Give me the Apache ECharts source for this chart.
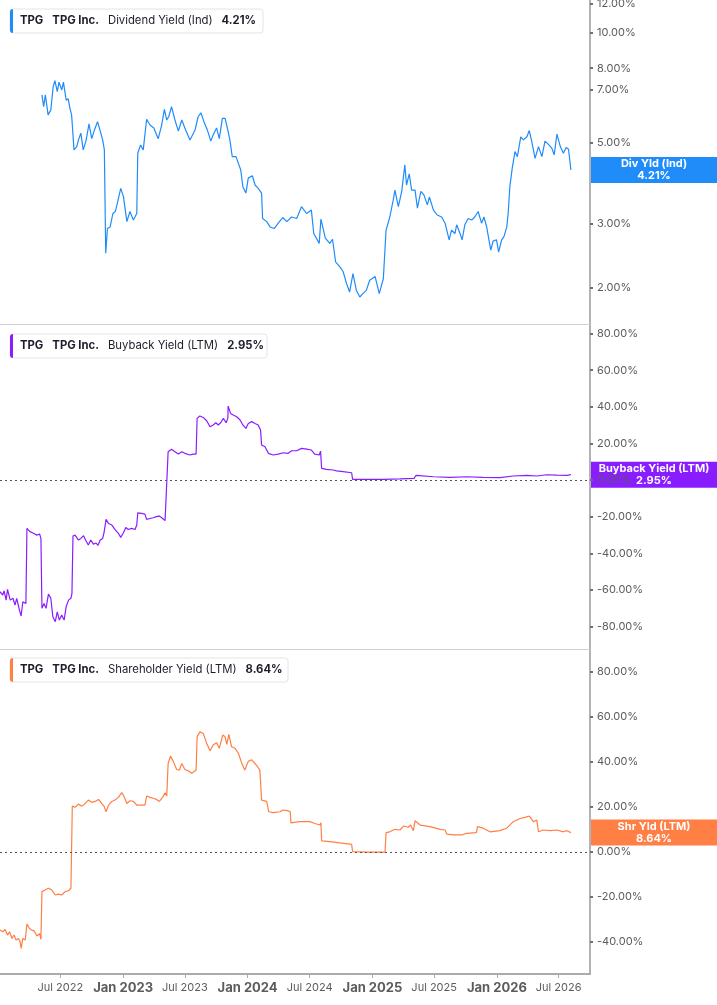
<!DOCTYPE html>
<html>
<head>
<meta charset="utf-8">
<script src="https://cdn.jsdelivr.net/npm/echarts@6/dist/echarts.min.js"></script>
<style>
html, body { margin: 0; padding: 0; background: #fff; }
#chart { width: 717px; height: 1005px; }
</style>
</head>
<body>
<div id="chart"></div>
<script>
// dividend yield (Ind), %
var divDates = ['2022-05-08','2022-05-13','2022-05-18','2022-05-26','2022-06-03','2022-06-10','2022-06-15','2022-06-22','2022-06-27','2022-07-05','2022-07-10','2022-07-18','2022-07-24','2022-07-29','2022-08-03','2022-08-10','2022-08-18','2022-08-23','2022-08-30','2022-09-06','2022-09-14','2022-09-23','2022-10-01','2022-10-09','2022-10-18','2022-10-26','2022-11-02','2022-11-07','2022-11-11','2022-11-16','2022-11-24','2022-12-02','2022-12-09','2022-12-15','2022-12-25',
  '2023-01-02','2023-01-12','2023-01-21','2023-01-31','2023-02-10','2023-02-13','2023-02-21','2023-03-01','2023-03-11','2023-03-21','2023-04-01','2023-04-14','2023-04-24','2023-05-02','2023-05-09','2023-05-15','2023-05-23','2023-06-02','2023-06-12','2023-06-22','2023-07-01','2023-07-16','2023-07-31','2023-08-09','2023-08-17','2023-08-26','2023-09-05','2023-09-15','2023-09-22','2023-10-02','2023-10-10','2023-10-19','2023-10-27','2023-11-04','2023-11-10','2023-11-17','2023-11-28','2023-12-05','2023-12-12','2023-12-18','2023-12-27',
  '2024-01-03','2024-01-15','2024-01-23','2024-02-01','2024-02-11','2024-02-14','2024-02-26','2024-03-07','2024-03-19','2024-03-31','2024-04-13','2024-04-25','2024-05-09','2024-05-24','2024-06-07','2024-06-22','2024-07-06','2024-07-13','2024-07-29','2024-08-03','2024-08-16','2024-08-29','2024-09-06','2024-09-15','2024-09-27','2024-10-07','2024-10-17','2024-10-26','2024-11-05','2024-11-15','2024-11-25','2024-12-04','2024-12-14','2024-12-24',
  '2025-01-09','2025-01-21','2025-02-02','2025-02-10','2025-02-21','2025-03-03','2025-03-08','2025-03-18','2025-03-28','2025-04-06','2025-04-11','2025-04-19','2025-04-26','2025-05-06','2025-05-13','2025-05-23','2025-06-01','2025-06-11','2025-06-17','2025-06-29','2025-07-10','2025-07-23','2025-08-02','2025-08-14','2025-08-21','2025-08-31','2025-09-05','2025-09-15','2025-09-21','2025-09-29','2025-10-09','2025-10-19','2025-10-28','2025-11-07','2025-11-17','2025-11-24','2025-12-02','2025-12-14','2025-12-21','2025-12-31',
  '2026-01-06','2026-01-15','2026-01-22','2026-01-30','2026-02-03','2026-02-08','2026-02-15','2026-02-23','2026-03-02','2026-03-12','2026-03-20','2026-03-30','2026-04-06','2026-04-13','2026-04-23','2026-05-03','2026-05-13','2026-05-22','2026-06-01','2026-06-11','2026-06-18','2026-06-26','2026-07-06','2026-07-15','2026-07-23','2026-07-30','2026-08-06'];
var divValues = [6.76,6.28,6.76,5.96,6.15,7.12,7.40,6.90,7.33,6.97,7.33,6.54,6.60,6.21,5.96,4.78,4.88,5.09,5.31,4.78,5.05,5.63,5.13,5.42,5.71,5.38,5.09,4.78,2.49,2.91,2.94,3.20,3.24,3.41,3.75,
  3.56,3.04,3.24,3.07,3.20,4.68,4.93,4.78,5.80,5.59,5.49,5.13,5.59,6.17,5.77,5.90,6.28,5.77,5.38,5.77,5.49,5.09,5.42,5.89,6.04,5.71,5.42,5.05,5.25,5.49,5.13,5.83,5.83,5.42,5.09,4.58,4.58,4.39,4.21,3.79,3.64,
  4.00,4.06,3.83,3.75,3.64,3.10,3.04,2.94,2.91,3.01,3.12,3.04,3.13,3.10,3.34,3.20,3.27,2.82,2.65,3.09,2.74,2.65,2.72,2.36,2.29,2.22,2.06,1.95,2.19,1.97,1.89,1.93,1.97,2.10,
  2.15,1.93,2.12,2.88,3.13,3.48,3.71,3.34,3.68,4.35,3.83,4.11,3.71,3.71,3.31,3.68,3.60,3.38,3.55,3.27,3.17,3.13,3.01,2.71,2.88,2.82,2.98,2.82,2.71,2.98,3.10,3.07,3.13,3.24,3.01,3.13,2.94,2.54,2.69,2.71,
  2.51,2.71,2.77,2.94,3.20,3.79,4.26,4.73,4.58,5.19,5.09,5.19,5.40,5.05,4.53,4.88,4.58,5.05,4.95,4.83,4.63,5.28,4.88,4.68,4.85,4.80,4.21];

// buyback yield (LTM), %
var bbDates = ['2022-01-05','2022-01-13','2022-01-17','2022-01-23','2022-01-27','2022-02-04','2022-02-12','2022-02-18','2022-02-23','2022-03-03','2022-03-08','2022-03-13','2022-03-22','2022-03-25','2022-04-03','2022-04-13','2022-04-23','2022-05-01','2022-05-05','2022-05-08','2022-05-14','2022-05-20','2022-05-27','2022-06-03','2022-06-09','2022-06-16','2022-06-22','2022-06-28','2022-07-05','2022-07-12','2022-07-18','2022-07-25','2022-08-01','2022-08-04','2022-08-07','2022-08-13','2022-08-23','2022-08-30','2022-09-07','2022-09-14','2022-09-21','2022-09-28','2022-10-06','2022-10-14','2022-10-19','2022-10-26','2022-11-02','2022-11-06','2022-11-12','2022-11-19','2022-11-29','2022-12-08','2022-12-18','2022-12-25',
  '2023-01-02','2023-01-09','2023-01-16','2023-01-26','2023-02-05','2023-02-10','2023-02-13','2023-02-24','2023-03-06','2023-03-11','2023-03-21','2023-03-30','2023-04-09','2023-04-17','2023-04-27','2023-05-04','2023-05-09','2023-05-13','2023-05-23','2023-06-02','2023-06-12','2023-06-22','2023-07-01','2023-07-16','2023-07-26','2023-08-03','2023-08-06','2023-08-14','2023-08-24','2023-09-03','2023-09-13','2023-09-22','2023-09-30','2023-10-07','2023-10-14','2023-10-22','2023-10-30','2023-11-04','2023-11-05','2023-11-12','2023-11-20','2023-11-30','2023-12-10','2023-12-18','2023-12-27',
  '2024-01-03','2024-01-13','2024-01-23','2024-02-01','2024-02-08','2024-02-11','2024-02-21','2024-03-02','2024-03-16','2024-03-31','2024-04-14','2024-04-29','2024-05-09','2024-05-24','2024-06-07','2024-06-22','2024-07-06','2024-07-16','2024-07-29','2024-08-02','2024-08-05','2024-08-19','2024-09-08','2024-09-18','2024-10-07','2024-11-01','2024-11-04','2024-12-14',
  '2025-02-02','2025-03-23','2025-05-03','2025-05-09','2025-06-29','2025-08-17','2025-10-04','2025-11-22','2026-01-10','2026-02-18','2026-03-30','2026-04-28','2026-05-27','2026-06-26','2026-07-25','2026-08-06'];
var bbValues = [-61.0,-62.8,-60.5,-65.6,-59.7,-65.6,-64.6,-68.3,-64.6,-71.0,-74.3,-66.5,-67.4,-26.4,-28.2,-29.1,-30.1,-29.5,-31.9,-70.1,-67.4,-70.1,-62.3,-64.6,-74.7,-77.4,-72.0,-76.5,-73.8,-76.5,-69.2,-65.6,-64.6,-61.9,-30.6,-30.1,-32.8,-31.9,-30.4,-33.2,-35.5,-32.8,-35.0,-34.4,-35.7,-32.8,-31.9,-28.8,-21.5,-23.7,-24.6,-27.0,-29.1,-31.3,
  -28.8,-25.9,-27.0,-26.4,-27.0,-24.6,-17.9,-18.2,-18.6,-21.5,-21.0,-20.6,-20.0,-19.7,-21.0,-22.2,-22.2,15.5,16.8,15.5,14.2,15.5,14.6,13.7,14.2,14.2,33.7,35.0,34.2,32.4,29.1,30.1,31.3,30.1,31.3,33.7,31.3,33.7,40.4,36.4,35.5,34.6,32.8,30.1,28.2,
  30.9,31.9,30.9,30.1,27.3,19.1,18.2,14.6,13.7,14.2,14.9,14.6,16.0,16.0,17.3,16.9,16.4,14.2,13.7,15.8,6.4,5.8,5.5,5.0,4.6,4.0,0.4,0.4,
  0.4,0.6,0.9,2.6,1.8,1.5,1.8,1.5,1.3,2.2,2.6,2.2,2.9,2.7,2.6,2.95];

// shareholder yield (LTM), %
var shDates = ['2022-01-05','2022-01-13','2022-01-20','2022-01-27','2022-02-02','2022-02-09','2022-02-15','2022-02-21','2022-02-28','2022-03-05','2022-03-08','2022-03-13','2022-03-20','2022-03-25','2022-04-01','2022-04-08','2022-04-15','2022-04-23','2022-05-01','2022-05-05','2022-05-08','2022-05-17','2022-05-27','2022-06-06','2022-06-16','2022-06-25','2022-07-05','2022-07-15','2022-07-25','2022-08-01','2022-08-05','2022-08-13','2022-08-23','2022-09-02','2022-09-12','2022-09-21','2022-10-01','2022-10-11','2022-10-21','2022-10-30','2022-11-06','2022-11-12','2022-11-19','2022-11-29','2022-12-08','2022-12-18','2022-12-28',
  '2023-01-04','2023-01-12','2023-01-21','2023-01-31','2023-02-10','2023-02-15','2023-02-24','2023-03-06','2023-03-11','2023-03-21','2023-03-30','2023-04-09','2023-04-17','2023-04-27','2023-05-04','2023-05-09','2023-05-13','2023-05-20','2023-05-28','2023-06-07','2023-06-15','2023-06-22','2023-07-01','2023-07-11','2023-07-21','2023-08-03','2023-08-06','2023-08-14','2023-08-24','2023-09-03','2023-09-13','2023-09-22','2023-10-02','2023-10-10','2023-10-20','2023-10-27','2023-11-01','2023-11-07','2023-11-15','2023-11-25','2023-12-05','2023-12-15','2023-12-24',
  '2024-01-03','2024-01-13','2024-01-26','2024-02-06','2024-02-11','2024-02-26','2024-03-03','2024-03-16','2024-04-05','2024-04-14','2024-04-27','2024-05-05','2024-05-07','2024-06-02','2024-07-02','2024-07-16','2024-07-31','2024-08-03','2024-08-05','2024-08-29','2024-09-27','2024-11-01','2024-11-04','2024-12-14',
  '2025-02-07','2025-02-10','2025-02-21','2025-03-08','2025-03-23','2025-04-03','2025-04-16','2025-04-23','2025-05-01','2025-05-06','2025-05-21','2025-06-19','2025-07-18','2025-08-02','2025-08-07','2025-08-26','2025-09-20','2025-10-04','2025-11-02','2025-11-05','2025-11-22','2025-12-12',
  '2026-01-10','2026-01-30','2026-02-18','2026-03-10','2026-03-25','2026-04-06','2026-04-18','2026-04-28','2026-05-03','2026-05-17','2026-06-06','2026-06-26','2026-07-15','2026-07-25','2026-08-06'];
var shValues = [-34.7,-35.4,-34.4,-36.9,-35.4,-38.4,-36.9,-39.1,-38.4,-39.9,-42.8,-38.4,-39.1,-32.0,-33.9,-34.7,-35.0,-37.3,-36.3,-38.8,-17.6,-16.9,-16.1,-16.9,-19.1,-18.7,-19.1,-17.6,-17.2,-16.1,20.4,19.9,21.3,20.4,21.6,23.1,22.1,22.5,23.4,21.6,20.4,17.9,20.7,22.5,23.1,24.3,26.4,
  24.6,21.6,22.8,22.5,20.9,20.1,20.9,20.9,24.9,24.3,23.9,23.4,22.5,24.3,26.4,24.9,39.4,42.7,40.3,36.7,36.4,39.4,36.7,36.1,35.0,36.4,51.2,53.5,52.7,48.3,45.0,47.6,48.6,46.1,52.0,51.2,47.9,52.3,46.8,46.1,43.9,39.4,36.4,
  40.3,41.0,38.8,36.4,23.1,22.5,17.9,17.5,17.9,18.7,18.4,17.9,13.0,13.5,13.5,12.7,12.0,13.0,5.0,4.6,4.1,3.4,0.15,0.0,
  0.0,8.6,9.0,10.1,9.8,11.6,11.0,12.0,9.5,13.9,12.0,11.3,10.1,9.8,8.0,7.6,7.6,8.3,8.6,11.3,10.6,9.0,
  9.5,10.6,13.5,14.9,15.4,16.0,13.5,14.2,9.0,9.8,9.5,9.8,9.0,9.5,8.64];

// y axis ticks
var divTicks = [2, 3, 5, 7, 8, 10, 12];
var bbTicks = [-80, -60, -40, -20, 0, 20, 40, 60, 80];
var shTicks = [-40, -20, 0, 20, 40, 60, 80];

var FONT = 'Inter, "Noto Sans", sans-serif';
var BLUE = '#1F8CFA', PURPLE = '#8A1DFF', ORANGE = '#FF7F45';
var xMin = +new Date(2022, 0, 5), xMax = +new Date(2026, 9, 1);
var DAY = 24 * 3600 * 1000;

function pairs(d, v) {
  return d.map(function (s, i) { return [s, v[i]]; });
}
function pct(v) { return v.toFixed(2) + '%'; }

function xAxisFor(idx) {
  var last = idx === 2;
  return {
    type: 'time', gridIndex: idx, min: xMin, max: xMax,
    minInterval: 180 * DAY, maxInterval: 185 * DAY,
    splitLine: { show: false },
    axisLine: { show: true, onZero: false, lineStyle: { color: last ? '#ababab' : '#d0d0d0', width: last ? 2 : 1 } },
    axisTick: { show: last, length: 4, lineStyle: { color: '#ababab', width: 1 } },
    axisLabel: {
      show: last, margin: 8, color: '#5c5c5c', fontSize: 11, fontFamily: FONT, hideOverlap: false,
      formatter: function (v) {
        var d = new Date(v);
        if (d.getMonth() === 0) return '{b|Jan ' + d.getFullYear() + '}';
        return 'Jul ' + d.getFullYear();
      },
      rich: { b: { fontWeight: 'bold', fontSize: 13, color: '#5c5c5c', fontFamily: FONT } }
    }
  };
}

function yAxisFor(idx, type, min, max, ticks) {
  return {
    type: type, gridIndex: idx, position: 'right', min: min, max: max,
    splitLine: { show: false },
    axisLine: { show: true, lineStyle: { color: '#b3b3b3', width: 2 } },
    axisTick: { show: true, customValues: ticks, length: 3, lineStyle: { color: '#707070', width: 2 } },
    axisLabel: { customValues: ticks, margin: 7, color: '#5c5c5c', fontSize: 11, fontFamily: FONT, formatter: pct }
  };
}

var zeroLine = {
  silent: true, symbol: ['none', 'none'], label: { show: false },
  lineStyle: { type: [2, 3], color: '#555', width: 1 },
  data: [{ yAxis: 0 }]
};

var chart = echarts.init(document.getElementById('chart'));
chart.setOption({
  animation: false,
  backgroundColor: '#fff',
  grid: [
    { left: 0, right: 127, top: 0, height: 324, outerBoundsMode: 'none' },
    { left: 0, right: 127, top: 325, height: 324, outerBoundsMode: 'none' },
    { left: 0, right: 127, top: 650, height: 324, outerBoundsMode: 'none' }
  ],
  xAxis: [xAxisFor(0), xAxisFor(1), xAxisFor(2)],
  yAxis: [
    yAxisFor(0, 'log', 1.594, 12.3, divTicks),
    yAxisFor(1, 'value', -92.3, 84.7, bbTicks),
    yAxisFor(2, 'value', -54.2, 89.8, shTicks)
  ],
  series: [
    { type: 'line', xAxisIndex: 0, yAxisIndex: 0, data: pairs(divDates, divValues), showSymbol: false,
      lineStyle: { color: BLUE, width: 1.2 }, itemStyle: { color: BLUE } },
    { type: 'line', xAxisIndex: 1, yAxisIndex: 1, data: pairs(bbDates, bbValues), showSymbol: false,
      lineStyle: { color: PURPLE, width: 1.2 }, itemStyle: { color: PURPLE }, markLine: zeroLine },
    { type: 'line', xAxisIndex: 2, yAxisIndex: 2, data: pairs(shDates, shValues), showSymbol: false,
      lineStyle: { color: ORANGE, width: 1.2 }, itemStyle: { color: ORANGE }, markLine: zeroLine }
  ]
});

// legends (top-left) and last-value boxes (right)
function legend(y, w, color, name, val) {
  return {
    type: 'group', x: 10, y: y, z: 100,
    children: [
      { type: 'rect', shape: { x: 0, y: 0, width: w, height: 24, r: 3 }, style: { fill: '#fff', stroke: '#e4e4e4', lineWidth: 1 } },
      { type: 'rect', shape: { x: 0, y: 0, width: 3, height: 24, r: [3, 0, 0, 3] }, style: { fill: color } },
      { type: 'text', x: 10, y: 12, style: {
        text: '{b|TPG}{g|}{b|TPG Inc.}{g|}{r|' + name + '}{g|}{b|' + val + '}',
        verticalAlign: 'middle',
        rich: {
          b: { fontWeight: 'bold', fontSize: 11.3, fill: '#1d1d2b', fontFamily: FONT },
          r: { fontSize: 11.3, fill: '#1d1d2b', fontFamily: FONT },
          g: { width: 9 }
        }
      } }
    ]
  };
}
function valueBox(yAxisIndex, v, color, title) {
  var cy = chart.convertToPixel({ yAxisIndex: yAxisIndex }, v);
  return {
    type: 'group', x: 590, y: cy - 13, z: 100,
    children: [
      { type: 'rect', shape: { x: 0, y: 0, width: 127, height: 26 }, style: { fill: color } },
      { type: 'text', x: 64, y: 13, style: {
        text: title + '\n' + pct(v), fill: '#fff', fontWeight: 'bold', fontSize: 11, fontFamily: FONT,
        align: 'center', verticalAlign: 'middle', lineHeight: 12
      } }
    ]
  };
}

chart.setOption({
  graphic: [
    legend(9, 253, BLUE, 'Dividend Yield (Ind)', '4.21%'),
    legend(334, 257, PURPLE, 'Buyback Yield (LTM)', '2.95%'),
    legend(658, 278, ORANGE, 'Shareholder Yield (LTM)', '8.64%'),
    valueBox(0, divValues[divValues.length - 1], BLUE, 'Div Yld (Ind)'),
    valueBox(1, bbValues[bbValues.length - 1], PURPLE, 'Buyback Yield (LTM)'),
    valueBox(2, shValues[shValues.length - 1], ORANGE, 'Shr Yld (LTM)')
  ]
});
</script>
</body>
</html>
